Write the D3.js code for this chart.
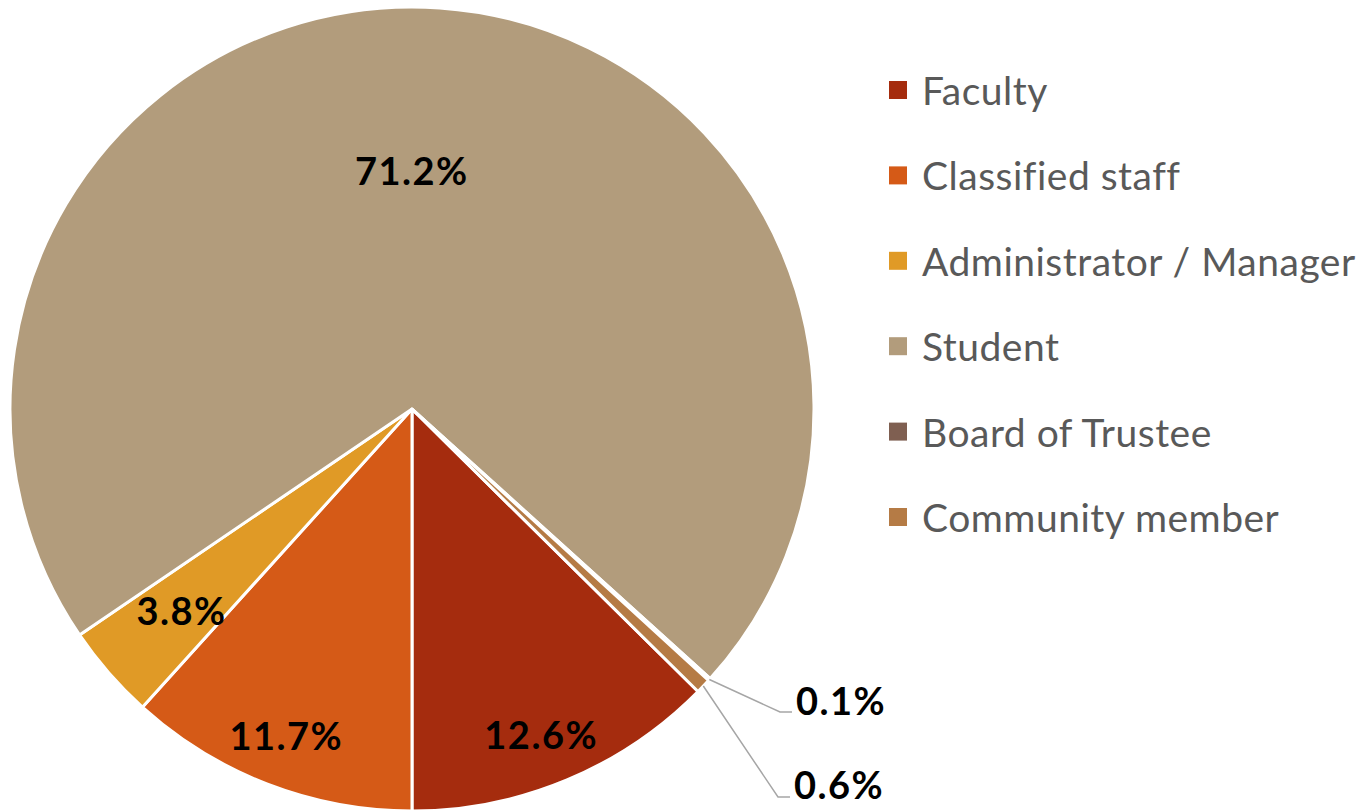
<!DOCTYPE html>
<html>
<head>
<meta charset="utf-8">
<script src="https://cdn.jsdelivr.net/npm/d3@7"></script>
<style>
  body { margin: 0; background: #fff; }
  svg text { font-family: Lato, "Open Sans", sans-serif; }
</style>
</head>
<body>
<div id="chart"></div>
<script>

const categories = ['Faculty', 'Classified staff', 'Administrator / Manager', 'Student', 'Board of Trustee', 'Community member'];
const shares = [12.6, 11.7, 3.8, 71.2, 0.1, 0.6];
const colors = ['#a52c0e', '#d55a17', '#e09a26', '#b29c7c', '#7f5f51', '#b57b45'];

// pie drawing
function drawPie() {

    let dimensions = {
        width: 1364,
        height: 810,
        cx: 412,
        cy: 409,
        r: 402
    };

    const svg = d3.select('#chart').append('svg')
        .attr('width', dimensions.width)
        .attr('height', dimensions.height);

    const data = categories.map((c, i) => ({ name: c, value: shares[i], color: colors[i] }));

    // Faculty ends straight down, slices go clockwise
    const start = Math.PI - (shares[0] / 100) * 2 * Math.PI;
    const pie = d3.pie()
        .sort(null)
        .value(d => d.value)
        .startAngle(start)
        .endAngle(start + 2 * Math.PI);

    const arcs = pie(data);
    const arc = d3.arc().innerRadius(0).outerRadius(dimensions.r);

    const g = svg.append('g')
        .attr('transform', `translate(${dimensions.cx},${dimensions.cy})`);

    g.selectAll('path')
        .data(arcs)
        .join('path')
        .attr('d', arc)
        .attr('fill', d => d.data.color)
        .attr('stroke', '#fff')
        .attr('stroke-width', 3)
        .attr('stroke-linejoin', 'round');

    // labels inside: [radius fraction, angle shift in degrees] per slice (best-fit style)
    const inside = { 0: [0.87, 1.0], 1: [0.87, 0], 2: [0.76, 0], 3: [0.595, -4] };
    const pt = (a, rr) => [Math.sin(a) * rr, -Math.cos(a) * rr];

    const labelText = v => v.toFixed(1) + '%';

    arcs.forEach((d, i) => {
        const mid = (d.startAngle + d.endAngle) / 2;
        if (inside[i] !== undefined) {
            const [f, shift] = inside[i];
            const [x, y] = pt(mid + shift * Math.PI / 180, dimensions.r * f);
            g.append('text')
                .attr('x', x)
                .attr('y', y)
                .attr('text-anchor', 'middle')
                .attr('dominant-baseline', 'central')
                .style('font-size', '38px')
                .style('font-weight', 'bold')
                .style('letter-spacing', '1.5px')
                .style('fill', '#000')
                .text(labelText(d.data.value));
        }
    });

    // outside labels with leader lines
    const outside = [
        { i: 4, ly: 712 - dimensions.cy, lx: 780 - dimensions.cx, ty: 700 - dimensions.cy },
        { i: 5, ly: 797 - dimensions.cy, lx: 778 - dimensions.cx, ty: 784 - dimensions.cy }
    ];
    outside.forEach(o => {
        const d = arcs[o.i];
        const mid = (d.startAngle + d.endAngle) / 2;
        const [x0, y0] = pt(mid, dimensions.r);
        g.append('polyline')
            .attr('points', [[x0, y0], [o.lx, o.ly], [o.lx + 12, o.ly]].map(p => p.join(',')).join(' '))
            .attr('fill', 'none')
            .attr('stroke', '#a6a6a6')
            .attr('stroke-width', 1.5);
        g.append('text')
            .attr('x', o.lx + 16)
            .attr('y', o.ty)
            .attr('dominant-baseline', 'central')
            .style('font-size', '38px')
            .style('font-weight', 'bold')
            .style('letter-spacing', '1.5px')
            .style('fill', '#000')
            .text(labelText(d.data.value));
    });

    // legend
    const legend = svg.append('g');
    const item = legend.selectAll('g')
        .data(data)
        .join('g')
        .attr('transform', (d, i) => `translate(889,${90 + i * 85.4})`);

    item.append('rect')
        .attr('x', 0)
        .attr('y', -9)
        .attr('width', 18)
        .attr('height', 18)
        .attr('fill', d => d.color);

    item.append('text')
        .attr('x', 33)
        .attr('y', 0)
        .attr('dominant-baseline', 'central')
        .style('font-size', '39px')
        .style('letter-spacing', '0.5px')
        .style('fill', '#595959')
        .text(d => d.name);
}

drawPie();
</script>
</body>
</html>
